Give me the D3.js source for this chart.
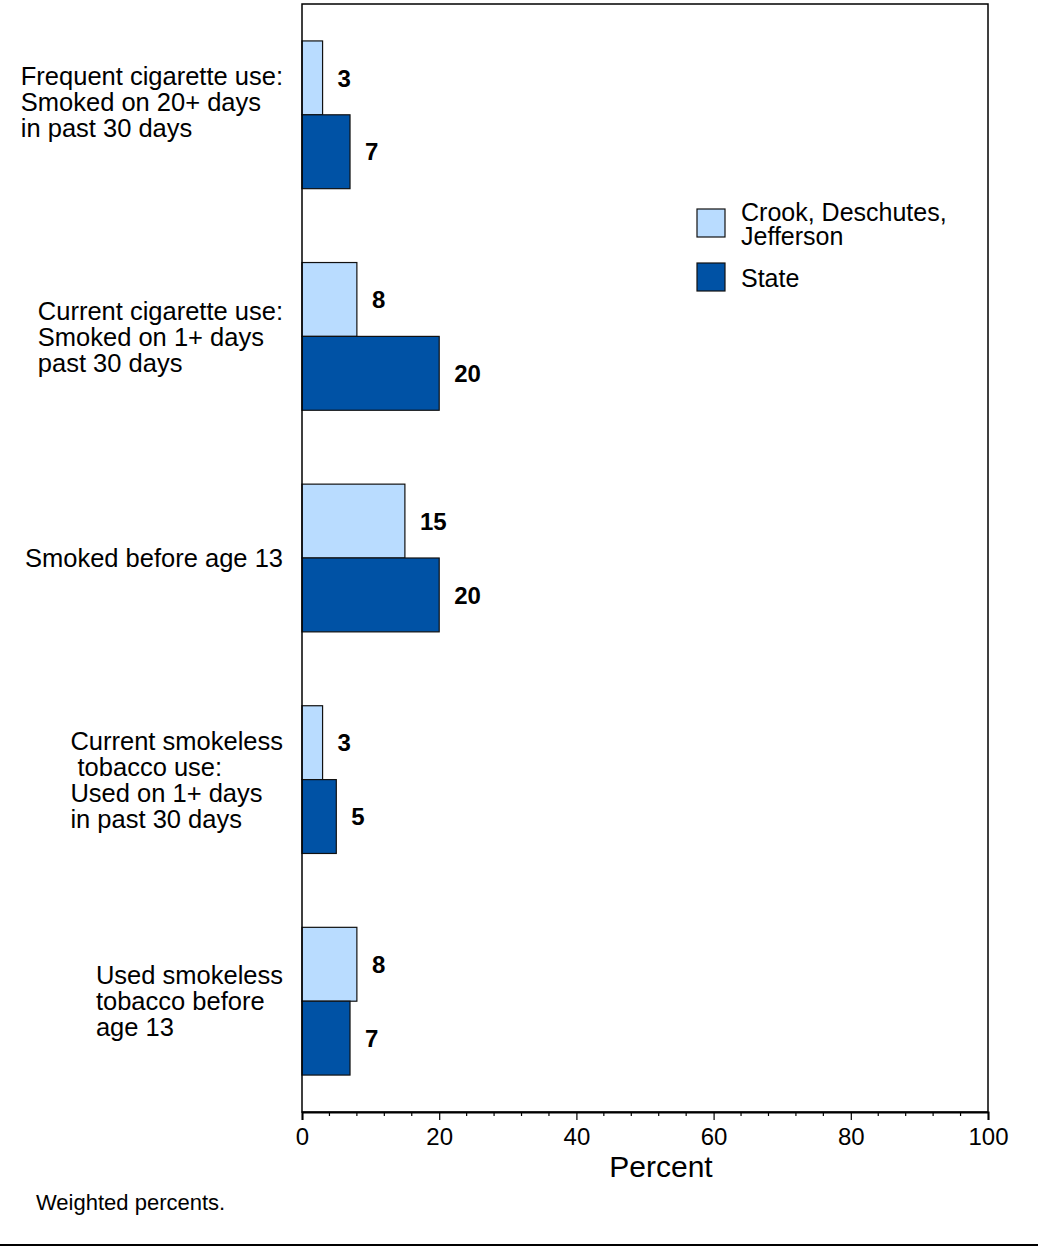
<!DOCTYPE html>
<html lang="en">
  <head>
    <meta charset="utf-8">
    <title>Tobacco use</title>
    <script src="https://d3js.org/d3.v7.min.js"></script>
    <style>
    body {
      margin: 0;
      background: #fff;
    }
    svg {
      display: block;
      font-family: "Liberation Sans", Arial, sans-serif;
    }
    </style>
  </head>
  <body>
    <div id="chart"></div>
    <script>
      // data (label lines as split in the original)
      var categories = [
        ["Frequent cigarette use:", "Smoked on 20+ days", "in past 30 days", ""],
        ["Current cigarette use:", "Smoked on 1+ days", "past 30 days"],
        ["Smoked before age 13"],
        ["Current smokeless", " tobacco use:", "Used on 1+ days", "in past 30 days"],
        ["Used smokeless", "tobacco before", "age 13"]
      ];
      var regionValues = [3, 8, 15, 3, 8];
      var stateValues = [7, 20, 20, 5, 7];
      var seriesNames = ["Crook, Deschutes,\nJefferson", "State"];
      var xTicks = [0, 20, 40, 60, 80, 100];

      (function () {
        var W = 1038, H = 1247;
        var plotL = 302, plotR = 988, plotT = 4, plotB = 1112;
        var colors = ["#b9dcff", "#0052a5"];

        var svg = d3.select("#chart").append("svg")
          .attr("width", W).attr("height", H);

        var x = d3.scaleLinear().domain([0, 100]).range([plotL, plotR]);
        var y = d3.scaleBand().domain(d3.range(categories.length))
          .range([plotT, plotB]).paddingInner(1 / 3).paddingOuter(1 / 6);
        var y1 = d3.scaleBand().domain([0, 1]).range([0, y.bandwidth()]);

        var series = [regionValues, stateValues];

        // bars and value labels
        series.forEach(function (vals, s) {
          svg.append("g").selectAll("rect").data(vals).enter().append("rect")
            .attr("x", x(0))
            .attr("y", function (d, i) { return y(i) + y1(s); })
            .attr("width", function (d) { return x(d) - x(0); })
            .attr("height", y1.bandwidth())
            .attr("fill", colors[s])
            .attr("stroke", "#111")
            .attr("stroke-width", 1.2);

          svg.append("g").selectAll("text").data(vals).enter().append("text")
            .attr("x", function (d) { return x(d) + 15; })
            .attr("y", function (d, i) { return y(i) + y1(s) + y1.bandwidth() / 2; })
            .attr("dy", "0.36em")
            .style("font-size", "24px")
            .style("font-weight", "bold")
            .text(function (d) { return d; });
        });

        // frame
        svg.append("rect")
          .attr("x", plotL).attr("y", plotT)
          .attr("width", plotR - plotL).attr("height", plotB - plotT)
          .attr("fill", "none").attr("stroke", "#000").attr("stroke-width", 1.5);

        // x axis
        var axis = svg.append("g").attr("transform", "translate(0," + plotB + ")")
          .call(d3.axisBottom(x).tickValues(xTicks).tickSize(8).tickPadding(8));
        axis.select(".domain").attr("stroke-width", 2);
        axis.selectAll(".tick line").attr("stroke-width", 1.2);
        axis.selectAll(".tick text")
          .style("font-family", "'Liberation Sans', Arial, sans-serif")
          .style("font-size", "24px").attr("fill", "#000");

        svg.append("g").selectAll("line")
          .data(d3.range(0, 101, 4).filter(function (v) { return v % 20 !== 0; }))
          .enter().append("line")
          .attr("x1", function (d) { return x(d); })
          .attr("x2", function (d) { return x(d); })
          .attr("y1", plotB).attr("y2", plotB + 4)
          .attr("stroke", "#000").attr("stroke-width", 1.2);

        svg.append("text")
          .attr("x", 661).attr("y", 1177)
          .attr("text-anchor", "middle")
          .style("font-size", "30px")
          .text("Percent");

        // category labels: left-aligned block, right edge near the axis
        categories.forEach(function (lines, i) {
          var lh = 26;
          var cy = y(i) + y.bandwidth() / 2;
          var t = svg.append("text")
            .style("font-size", "25.5px")
            .attr("xml:space", "preserve")
            .style("white-space", "pre");
          lines.forEach(function (ln, k) {
            t.append("tspan")
              .attr("x", 0)
              .attr("y", cy + (k - (lines.length - 1) / 2) * lh)
              .attr("dy", "0.36em")
              .text(ln);
          });
          var w = t.node().getBBox().width;
          t.attr("transform", "translate(" + (283 - w) + ",0)");
        });

        // legend
        var leg = svg.append("g");
        var legY = [209, 263];
        series.forEach(function (vals, s) {
          leg.append("rect")
            .attr("x", 697).attr("y", legY[s])
            .attr("width", 28).attr("height", 28)
            .attr("fill", colors[s]).attr("stroke", "#111").attr("stroke-width", 1.2);
          var t = leg.append("text").style("font-size", "25px");
          seriesNames[s].split("\n").forEach(function (ln, k) {
            t.append("tspan")
              .attr("x", 741)
              .attr("y", (s === 0 ? 221 : 287) + k * 24)
              .text(ln);
          });
        });

        // footnote and rule
        svg.append("text")
          .attr("x", 36).attr("y", 1210)
          .style("font-size", "22px")
          .text("Weighted percents.");

        svg.append("line")
          .attr("x1", 0).attr("x2", W)
          .attr("y1", 1245).attr("y2", 1245)
          .attr("stroke", "#000").attr("stroke-width", 2);
      })();
    </script>
  </body>
</html>
